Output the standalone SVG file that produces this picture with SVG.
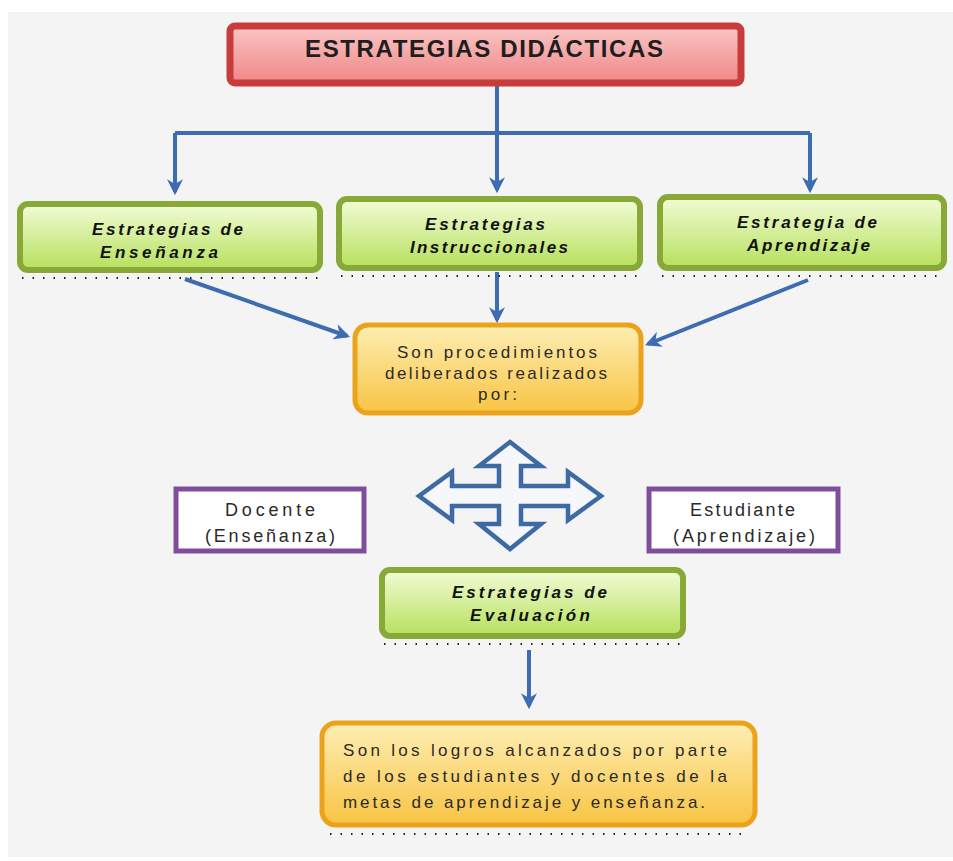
<svg xmlns="http://www.w3.org/2000/svg" width="953" height="861" viewBox="0 0 953 861">
<defs>
<linearGradient id="gRed" x1="0" y1="0" x2="0" y2="1"><stop offset="0" stop-color="#fac6c6"/><stop offset="1" stop-color="#f08686"/></linearGradient>
<linearGradient id="gGreen" x1="0" y1="0" x2="0" y2="1"><stop offset="0" stop-color="#f2fcd6"/><stop offset="1" stop-color="#b6e05c"/></linearGradient>
<linearGradient id="gOrange" x1="0" y1="0" x2="0" y2="1"><stop offset="0" stop-color="#feeeb4"/><stop offset="1" stop-color="#f8c443"/></linearGradient>
<marker id="ah" viewBox="0 0 10 10" refX="8" refY="5" markerWidth="4" markerHeight="4" orient="auto" markerUnits="strokeWidth"><path d="M0,0 L10,5 L0,10 L3,5 Z" fill="#3d6cb0"/></marker>
<style>
.red{fill:url(#gRed);stroke:#c83c3c;stroke-width:7}
.green{fill:url(#gGreen);stroke:#88a838;stroke-width:6}
.orange{fill:url(#gOrange);stroke:#eba31c;stroke-width:5}
.purple{fill:#ffffff;stroke:#7e4e9c;stroke-width:5}
.dots{stroke:#222;stroke-width:2;stroke-dasharray:1.5 9;fill:none}
.conn{stroke:#3d6cb0;stroke-width:4;fill:none}
.title{font-family:"Liberation Sans Narrow","Liberation Sans",Arial,sans-serif;font-weight:bold;font-size:24px;fill:#1e1e1e}
.gt{font-family:"Liberation Sans",Arial,sans-serif;font-weight:bold;font-style:italic;font-size:17px;fill:#111}
.nt{font-family:"Liberation Sans",Arial,sans-serif;font-size:17px;fill:#2a2a2a}
.pt{font-family:"Liberation Sans",Arial,sans-serif;font-size:18px;fill:#2a2a2a}
</style>
</defs>
<rect x="0" y="0" width="953" height="861" fill="#ffffff"/>
<rect x="8" y="12" width="945" height="845" fill="#f4f4f4"/>

<g id="connectors">
<path class="conn" d="M497,86 V190" marker-end="url(#ah)"/>
<path class="conn" d="M175,133 H810"/>
<path class="conn" d="M175,133 V192" marker-end="url(#ah)"/>
<path class="conn" d="M810,133 V190" marker-end="url(#ah)"/>
<path class="conn" d="M185,279 L347,336" marker-end="url(#ah)"/>
<path class="conn" d="M497,272 V320" marker-end="url(#ah)"/>
<path class="conn" d="M808,280 L648,344" marker-end="url(#ah)"/>
<path class="conn" d="M529,650 V706" marker-end="url(#ah)"/>
</g>

<g id="title">
<rect class="red" x="230" y="26" width="511" height="57" rx="5"/>
<text class="title" x="305" y="57" textLength="358" lengthAdjust="spacing">ESTRATEGIAS DIDÁCTICAS</text>
</g>

<g id="ensenanza">
<rect class="green" x="20" y="204" width="300" height="66" rx="8"/>
<path class="dots" d="M22,278 H318"/>
<text class="gt" x="92" y="235" textLength="151" lengthAdjust="spacing">Estrategias de</text>
<text class="gt" x="100" y="258" textLength="118" lengthAdjust="spacing">Enseñanza</text>
</g>

<g id="instruccionales">
<rect class="green" x="339" y="199" width="301" height="69" rx="8"/>
<path class="dots" d="M341,276 H638"/>
<text class="gt" x="425" y="230" textLength="120" lengthAdjust="spacing">Estrategias</text>
<text class="gt" x="410" y="253" textLength="158" lengthAdjust="spacing">Instruccionales</text>
</g>

<g id="aprendizaje">
<rect class="green" x="660" y="197" width="284" height="71" rx="8"/>
<path class="dots" d="M662,276 H942"/>
<text class="gt" x="737" y="228" textLength="140" lengthAdjust="spacing">Estrategia de</text>
<text class="gt" x="747" y="251" textLength="123" lengthAdjust="spacing">Aprendizaje</text>
</g>

<g id="procedimientos">
<rect class="orange" x="355" y="325" width="286" height="88" rx="13"/>
<text class="nt" x="397" y="358" textLength="200" lengthAdjust="spacing">Son procedimientos</text>
<text class="nt" x="385" y="379" textLength="222" lengthAdjust="spacing">deliberados realizados</text>
<text class="nt" x="478" y="400" textLength="39" lengthAdjust="spacing">por:</text>
</g>

<g id="docente">
<rect class="purple" x="176" y="489" width="188" height="62"/>
<text class="pt" x="225" y="516" textLength="90" lengthAdjust="spacing">Docente</text>
<text class="pt" x="205" y="542" textLength="130" lengthAdjust="spacing">(Enseñanza)</text>
</g>

<g id="estudiante">
<rect class="purple" x="649" y="489" width="189" height="62"/>
<text class="pt" x="690" y="516" textLength="105" lengthAdjust="spacing">Estudiante</text>
<text class="pt" x="673" y="542" textLength="142" lengthAdjust="spacing">(Aprendizaje)</text>
</g>

<g id="cross-arrow">
<polygon points="510,442 541,466 521,466 521,486 568,486 568,472 601,496 568,520 568,506 521,506 521,524 541,524 510,549 479,524 499,524 499,506 452,506 452,520 419,496 452,472 452,486 499,486 499,466 479,466" fill="#f6f7fb" stroke="#3d6aa5" stroke-width="4.5" stroke-linejoin="miter"/>
</g>

<g id="evaluacion">
<rect class="green" x="382" y="570" width="301" height="66" rx="8"/>
<path class="dots" d="M384,644 H681"/>
<text class="gt" x="452" y="598" textLength="155" lengthAdjust="spacing">Estrategias de</text>
<text class="gt" x="470" y="621" textLength="120" lengthAdjust="spacing">Evaluación</text>
</g>

<g id="logros">
<rect class="orange" x="322" y="723" width="433" height="102" rx="14"/>
<path class="dots" d="M330,834 H745"/>
<text class="nt" x="343" y="756" textLength="384" lengthAdjust="spacing">Son los logros alcanzados por parte</text>
<text class="nt" x="343" y="782" textLength="384" lengthAdjust="spacing">de los estudiantes y docentes de la</text>
<text class="nt" x="343" y="808" textLength="362" lengthAdjust="spacing">metas de aprendizaje y enseñanza.</text>
</g>
</svg>
